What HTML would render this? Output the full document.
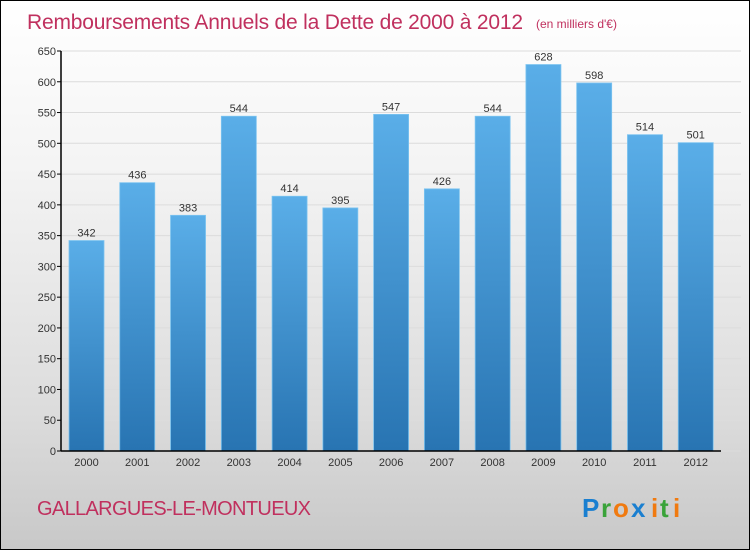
<!DOCTYPE html>
<html><head><meta charset="utf-8"><style>
body{margin:0;}
#c{width:748px;height:548px;border:1px solid #000;background:linear-gradient(#ffffff,#f4f4f4 30%,#dcdcdc 75%,#c8c8c8);position:relative;overflow:hidden;font-family:"Liberation Sans",sans-serif;}
</style></head><body>
<div id="c">
<svg width="748" height="548" id="svg">
<defs><linearGradient id="bg" x1="0" y1="0" x2="0" y2="1"><stop offset="0" stop-color="#5aaee8"/><stop offset="1" stop-color="#2874b2"/></linearGradient></defs>
<text x="26" y="28" font-size="21" fill="#c0305e" textLength="496">Remboursements Annuels de la Dette de 2000 à 2012</text>
<text x="535" y="27" font-size="12" fill="#c0305e">(en milliers d'€)</text>
<text x="36" y="514" font-size="20" fill="#c0305e" textLength="274">GALLARGUES-LE-MONTUEUX</text>
<g font-size="26" font-weight="bold"><text x="581" y="516" fill="#1a7fd0">P</text><text x="600" y="516" fill="#3aa33a">r</text><text x="612" y="516" fill="#f07a10">o</text><text x="630" y="516" fill="#1a7fd0">x</text><text x="650" y="516" fill="#f07a10">i</text><text x="659" y="516" fill="#3aa33a">t</text><text x="672" y="516" fill="#f07a10">i</text></g>
<g id="plot"></g>
</svg></div>
<script>
const years=["2000","2001","2002","2003","2004","2005","2006","2007","2008","2009","2010","2011","2012"];
const values=[342,436,383,544,414,395,547,426,544,628,598,514,501];
const ticks=[0,50,100,150,200,250,300,350,400,450,500,550,600,650];
const NS="http://www.w3.org/2000/svg",g=document.getElementById('plot');
const x0=60,x1=720,y0=450,yMax=650,h=400,band=(x1-x0)/years.length;
const y=v=>y0-v/yMax*h, bx=i=>x0+i*band+8;
function mk(t,a,txt){const e=document.createElementNS(NS,t);for(const k in a)e.setAttribute(k,a[k]);if(txt!=null)e.textContent=txt;g.appendChild(e);return e;}
ticks.forEach(t=>{
 const l=mk('line',{x1:x0,x2:740,y1:y(t),y2:y(t),stroke:'#dcdcdc','stroke-width':1});
 
 const k=mk('line',{x1:x0-4,x2:x0,y1:y(t),y2:y(t),stroke:'#000'});
 
 const tx=mk('text',{x:x0-5,y:y(t)+4,'font-size':11,fill:'#333','text-anchor':'end'},t);
 
});
values.forEach((v,i)=>{
 const r=mk('rect',{x:bx(i),y:y(v),width:35,height:y0-y(v),fill:'url(#bg)',stroke:'#7cc4f0','stroke-width':0.8});
 
 const t=mk('text',{x:bx(i)+17.5,y:y(v)-4,'font-size':11,fill:'#333','text-anchor':'middle'},v);
 
 const xl=mk('text',{x:bx(i)+17.5,y:y0+15,'font-size':11,fill:'#333','text-anchor':'middle'},years[i]);
 
});
const ya=mk('line',{x1:x0,x2:x0,y1:y(yMax),y2:y0,stroke:'#000','stroke-width':1.5});

const xa=mk('line',{x1:x0,x2:x1,y1:y0,y2:y0,stroke:'#000','stroke-width':1.5});

</script>
</body></html>
